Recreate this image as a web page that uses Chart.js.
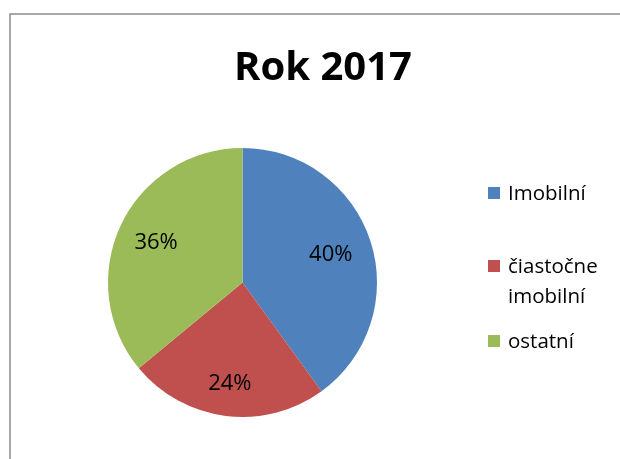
<!DOCTYPE html>
<html>
<head>
<meta charset="utf-8">
<script src="https://cdn.jsdelivr.net/npm/chart.js@4/dist/chart.umd.min.js"></script>
<style>
  html, body { margin: 0; padding: 0; background: #ffffff; }
  #wrap { position: relative; width: 620px; height: 459px; }
</style>
</head>
<body>
<div id="wrap"><canvas id="c" width="620" height="459"></canvas></div>
<script>
const titleText = 'Rok 2017';
const categories = ['Imobilní', 'čiastočne imobilní', 'ostatní'];
const legendLines = [['Imobilní'], ['čiastočne', 'imobilní'], ['ostatní']];
const values = [40, 24, 36];
const colors = ['#4F81BD', '#C0504D', '#9BBB59'];

const FONT = '"Open Sans", "Liberation Sans", sans-serif';

const framePlugin = {
  id: 'frame',
  beforeDraw(chart) {
    const ctx = chart.ctx;
    ctx.save();
    ctx.fillStyle = '#ffffff';
    ctx.fillRect(0, 0, chart.width, chart.height);
    ctx.strokeStyle = '#8c8c8c';
    ctx.lineWidth = 1.5;
    ctx.beginPath();
    ctx.moveTo(10, chart.height + 5);
    ctx.lineTo(10, 14);
    ctx.lineTo(chart.width + 5, 14);
    ctx.stroke();
    ctx.restore();
  },
  afterDraw(chart) {
    const ctx = chart.ctx;
    ctx.save();
    // Title
    ctx.fillStyle = '#000000';
    ctx.font = 'bold 40px ' + FONT;
    ctx.textAlign = 'center';
    ctx.textBaseline = 'alphabetic';
    ctx.fillText(titleText, 323, 80);

    // Data labels (best-fit style, inside slices)
    const meta = chart.getDatasetMeta(0);
    const total = values.reduce((a, b) => a + b, 0);
    ctx.font = '22px ' + FONT;
    const radial = [0.69, 0.75, 0.71];
    meta.data.forEach((arc, i) => {
      const p = arc.getProps(['x', 'y', 'startAngle', 'endAngle', 'outerRadius'], true);
      const mid = (p.startAngle + p.endAngle) / 2;
      const r = p.outerRadius * radial[i];
      const x = p.x + Math.cos(mid) * r;
      const y = p.y + Math.sin(mid) * r;
      const pct = Math.round(values[i] / total * 100) + '%';
      ctx.fillText(pct, x, y + 7.5);
    });

    // Legend
    const baselines = [200, 273, 348];
    ctx.textAlign = 'left';
    ctx.font = '20.5px ' + FONT;
    legendLines.forEach((lines, i) => {
      ctx.fillStyle = colors[i];
      ctx.fillRect(488, baselines[i] - 13, 12, 12);
      ctx.fillStyle = '#000000';
      lines.forEach((t, j) => ctx.fillText(t, 508, baselines[i] + j * 30));
    });
    ctx.restore();
  }
};

new Chart(document.getElementById('c'), {
  type: 'pie',
  data: {
    labels: categories,
    datasets: [{
      data: values,
      backgroundColor: colors,
      borderWidth: 0
    }]
  },
  options: {
    responsive: false,
    animation: false,
    events: [],
    layout: { padding: { left: 108, right: 243, top: 148, bottom: 42 } },
    plugins: {
      legend: { display: false },
      title: { display: false },
      tooltip: { enabled: false }
    }
  },
  plugins: [framePlugin]
});
</script>
</body>
</html>
